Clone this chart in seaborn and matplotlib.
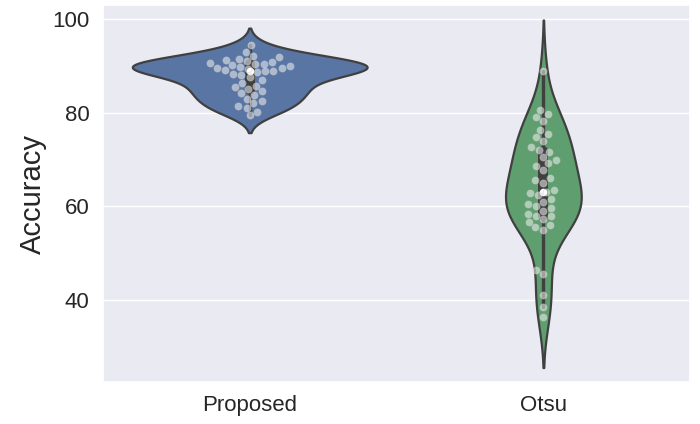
import matplotlib
matplotlib.use("Agg")
import matplotlib.pyplot as plt
import seaborn as sns
import pandas as pd

# Accuracy values
proposed = [94.4, 93.0, 92.2, 91.8, 91.5, 91.2, 91.0, 90.8, 90.6, 90.5,
            90.3, 90.1, 90.0, 89.8, 89.6, 89.5, 89.3, 89.1, 89.0, 88.8,
            88.6, 88.3, 88.0, 87.6, 87.0, 86.3, 85.8, 85.5, 85.0, 84.6,
            84.2, 83.8, 83.0, 82.5, 82.0, 81.5, 81.0, 80.2, 79.4]
otsu = [89.0, 80.5, 79.8, 79.0, 78.3, 76.3, 75.5, 74.8, 74.0, 72.6,
        72.0, 71.6, 70.5, 69.8, 69.2, 68.5, 67.8, 66.0, 65.5, 65.0,
        63.5, 63.0, 62.8, 62.3, 61.6, 61.0, 60.4, 60.0, 59.6, 59.0,
        58.4, 58.0, 57.8, 57.2, 56.6, 56.0, 55.6, 55.0, 46.4, 45.5,
        41.0, 38.5, 36.3]
methods = ["Proposed", "Otsu"]
colors = ["#4C72B0", "#55A868"]

df = pd.DataFrame({
    "Method": ["Proposed"] * len(proposed) + ["Otsu"] * len(otsu),
    "Accuracy": proposed + otsu,
})

sns.set_theme(style="darkgrid")
plt.rcParams['font.family'] = ['Liberation Sans', 'DejaVu Sans']

fig = plt.figure(figsize=(7, 4.24), dpi=100)
ax = fig.add_axes([0.147, 0.099, 0.839, 0.889])

sns.violinplot(data=df, x="Method", y="Accuracy", hue="Method",
               order=methods, palette=colors, legend=False,
               density_norm="area", common_norm=True,
               inner_kws=dict(marker="o", markersize=4),
               linecolor="0.25", linewidth=1.6, ax=ax)
sns.swarmplot(data=df, x="Method", y="Accuracy", order=methods,
              color="white", alpha=0.5, edgecolor="0.8", linewidth=0.8,
              size=5, ax=ax)

ax.set_ylim(22.4, 103)
ax.set_yticks([40, 60, 80, 100])
ax.set_xlabel("")
ax.set_ylabel("Accuracy", fontsize=21)
ax.tick_params(axis="both", labelsize=16)

fig.savefig("out.png", dpi=100)
